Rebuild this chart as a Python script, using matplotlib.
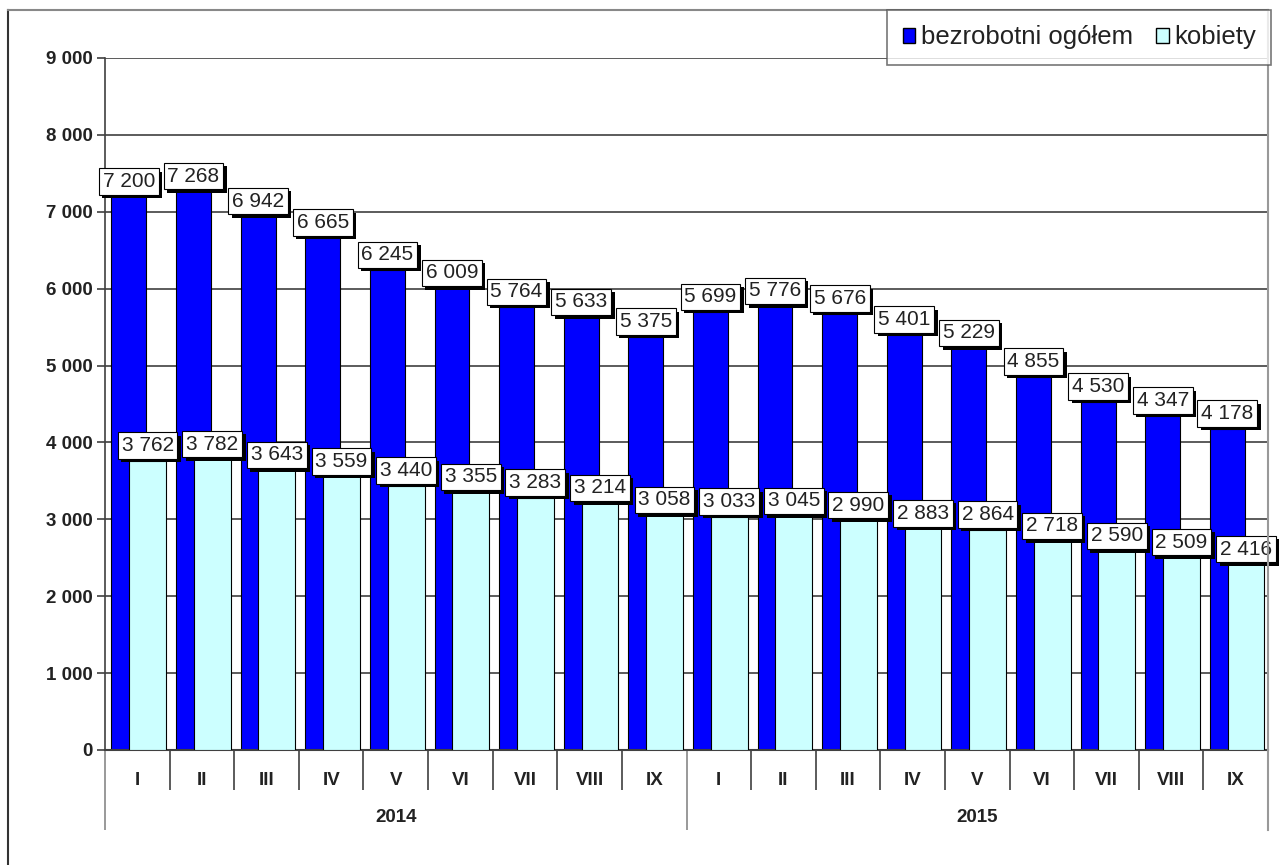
import matplotlib
matplotlib.use("Agg")
import matplotlib.pyplot as plt
import matplotlib.patheffects as pe
from matplotlib.lines import Line2D
from matplotlib.patches import Patch
import numpy as np

plt.rcParams['font.family'] = ['Liberation Sans', 'DejaVu Sans']

months = ["I", "II", "III", "IV", "V", "VI", "VII", "VIII", "IX"]
years = ["2014", "2015"]
total = [7200, 7268, 6942, 6665, 6245, 6009, 5764, 5633, 5375,
         5699, 5776, 5676, 5401, 5229, 4855, 4530, 4347, 4178]
women = [3762, 3782, 3643, 3559, 3440, 3355, 3283, 3214, 3058,
         3033, 3045, 2990, 2883, 2864, 2718, 2590, 2509, 2416]

W, H = 1284, 865
fig = plt.figure(figsize=(W / 100, H / 100), dpi=100)
ax = fig.add_axes([105 / W, 1 - 750 / H, (1268 - 105) / W, (750 - 58) / H])

n = len(total)
x = np.arange(n)
dark = "#0000ff"
light = "#ccffff"
grid_c = "#404040"

ax.bar(x - 0.13, total, width=0.54, color=dark, edgecolor="black", linewidth=0.8, zorder=2)
ax.bar(x + 0.16, women, width=0.57, color=light, edgecolor="black", linewidth=0.8, zorder=3)

ax.set_xlim(-0.5, n - 0.5)
ax.set_ylim(0, 9000)
ax.set_yticks(range(0, 9001, 1000))
ax.set_yticklabels([f"{v:,}".replace(",", " ") for v in range(0, 9001, 1000)],
                   fontsize=13.5, fontweight="bold", color="#222222")
ax.tick_params(axis="y", length=6, width=1.2, color=grid_c, pad=3)
ax.yaxis.grid(True, color=grid_c, linewidth=1.2, zorder=0)
ax.set_axisbelow(True)
ax.set_xticks([])
for s in ["top", "right"]:
    ax.spines[s].set_visible(False)
ax.spines["left"].set_color(grid_c)
ax.spines["left"].set_linewidth(1.2)
ax.spines["bottom"].set_color(grid_c)
ax.spines["bottom"].set_linewidth(1.5)


def fmt(v):
    return f"{v:,}".replace(",", " ")


shadow = [pe.withSimplePatchShadow(offset=(2.5, -2.5), shadow_rgbFace="black", alpha=1.0)]
for i in range(n):
    for xv, yv in [(x[i] - 0.13, total[i]), (x[i] + 0.16, women[i])]:
        t = ax.annotate(fmt(yv), (xv, yv), xytext=(0, 4), textcoords="offset points",
                        ha="center", va="bottom", fontsize=15, color="#222222", zorder=6,
                        bbox=dict(boxstyle="square,pad=0.18", fc="white", ec="black", lw=0.8))
        t.get_bbox_patch().set_path_effects(shadow)

# category labels and separators
xt = ax.get_xaxis_transform()
for i in range(n):
    ax.text(x[i], -0.044, months[i % 9], transform=xt, ha="center", va="center",
            fontsize=13.5, fontweight="bold", color="#222222")
inner = [b - 0.5 for b in range(1, n) if b != 9]
ax.vlines(inner, -0.058, 0, transform=xt, colors=grid_c, linewidth=1.2, clip_on=False)
ax.vlines([-0.5, 8.5, n - 0.5], -0.116, 0, transform=xt, colors="#888888", linewidth=1.2, clip_on=False)
for k, yr in enumerate(years):
    ax.text(4 + 9 * k, -0.097, yr, transform=xt, ha="center", va="center",
            fontsize=13.5, fontweight="bold", color="#222222")

# outer frame lines
fig.add_artist(Line2D([8 / W, 8 / W], [0, 1 - 10 / H], color="#333333", lw=1.5))
fig.add_artist(Line2D([8 / W, 1268 / W], [1 - 10 / H, 1 - 10 / H], color="#888888", lw=1.5))
fig.add_artist(Line2D([1268 / W, 1268 / W], [1 - 10 / H, 1 - 830 / H], color="#999999", lw=1.5))

handles = [Patch(facecolor=dark, edgecolor="black", label="bezrobotni ogółem"),
           Patch(facecolor=light, edgecolor="black", label="kobiety")]
leg = fig.legend(handles=handles, loc="upper right", bbox_to_anchor=(1271 / W, 1 - 10 / H),
                 ncol=2, fontsize=18.5, frameon=True, fancybox=False, borderaxespad=0,
                 handlelength=0.5, handleheight=0.5, handletextpad=0.2, columnspacing=0.9,
                 borderpad=0.6)
leg.get_frame().set_edgecolor("#555555")
leg.get_frame().set_linewidth(1.2)
for txt in leg.get_texts():
    txt.set_color("#222222")

fig.savefig("out.png", dpi=100)
